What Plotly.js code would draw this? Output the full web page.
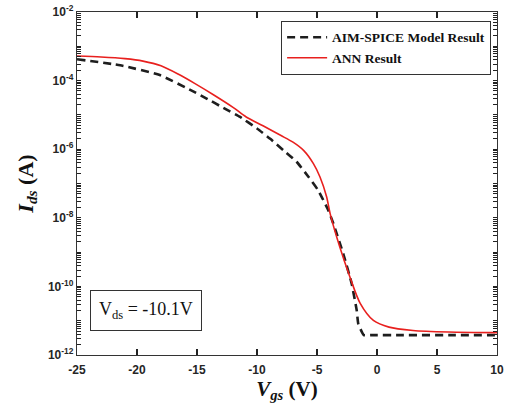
<!DOCTYPE html>
<html>
<head>
<meta charset="utf-8">
<script src="https://cdn.plot.ly/plotly-3.0.1.min.js"></script>
<style>html,body{margin:0;padding:0;background:#fff;}#chart{width:508px;height:405px;}</style>
</head>
<body>
<div id="chart"></div>
<script>
// AIM-SPICE model result (black dashed)
var vgsSpice = [-25, -21.4, -18.1, -15.4, -14.2, -12.8, -11.4, -10, -8.9, -7.8, -6.7, -5.7, -4.9, -4.06, -3.64, -2.81, -2.11, -1.69, -1.56, -1.1, -0.5, 2, 6, 10];
var idsSpice = [4.2e-4, 2.8e-4, 1.45e-4, 5.0e-5, 3.0e-5, 1.6e-5, 8.7e-6, 4.0e-6, 2.0e-6, 9.3e-7, 4.3e-7, 1.55e-7, 6.3e-8, 1.66e-8, 6.8e-9, 8.9e-10, 1.2e-10, 2.0e-11, 8.1e-12, 3.8e-12, 3.8e-12, 3.8e-12, 3.8e-12, 3.8e-12];
// ANN result (red solid)
var vgsAnn = [-25, -23, -21, -19.5, -18, -16.5, -15.2, -13.6, -12, -10.9, -9.5, -8, -7, -6.1, -5.3, -4.75, -4.2, -3.9, -3.1, -2.25, -1.4, -0.3, 1, 3, 6, 10];
var idsAnn = [5.2e-4, 4.9e-4, 4.37e-4, 3.7e-4, 2.7e-4, 1.5e-4, 8.3e-5, 3.8e-5, 1.66e-5, 8.7e-6, 4.8e-6, 2.5e-6, 1.6e-6, 9.1e-7, 3.8e-7, 1.55e-7, 4.1e-8, 1.3e-8, 1.4e-9, 1.86e-10, 3.2e-11, 1.02e-11, 6.5e-12, 5.2e-12, 4.7e-12, 4.5e-12];

var seriesNames = ['AIM-SPICE Model Result', 'ANN Result'];
var xTickVals = [-25, -20, -15, -10, -5, 0, 5, 10];
var xTickText = ['-25', '-20', '-15', '-10', '-5', '0', '5', '10'];
var yDecadeExps = [-12, -10, -8, -6, -4, -2];
var yDecadeText = ['10<sup>-12</sup>', '10<sup>-10</sup>', '10<sup>-8</sup>', '10<sup>-6</sup>', '10<sup>-4</sup>', '10<sup>-2</sup>'];

// y ticks: labelled decades plus unlabelled 2..9 minor positions
var yTickVals = [], yTickText = [];
for (var e = -12; e <= -2; e++) {
  var k = yDecadeExps.indexOf(e);
  yTickVals.push(Math.pow(10, e));
  yTickText.push(k >= 0 ? yDecadeText[k] : '');
  if (e < -2) {
    for (var m = 2; m <= 9; m++) { yTickVals.push(m * Math.pow(10, e)); yTickText.push(''); }
  }
}

var traces = [
  {x: vgsSpice, y: idsSpice, name: seriesNames[0], mode: 'lines', type: 'scatter',
   line: {color: '#1e1e1e', width: 2.6, dash: '8px,5px', shape: 'spline', smoothing: 0.4}},
  {x: vgsAnn, y: idsAnn, name: seriesNames[1], mode: 'lines', type: 'scatter',
   line: {color: '#e8201e', width: 1.6, shape: 'spline', smoothing: 0.8}}
];

var tickFont = {family: 'Liberation Sans, Arial, sans-serif', size: 12, color: '#262626', weight: 'bold'};

var layout = {
  width: 508, height: 405,
  margin: {l: 77, r: 11, t: 12, b: 50},
  paper_bgcolor: '#fff', plot_bgcolor: '#fff',
  showlegend: true,
  legend: {x: 0.986, y: 0.974, xanchor: 'right', yanchor: 'top',
    bgcolor: '#fff', bordercolor: '#333', borderwidth: 1,
    font: {family: 'Liberation Serif, serif', size: 13.5, color: '#111', weight: 'bold'},
    tracegroupgap: 0, itemwidth: 40},
  xaxis: {range: [-25, 10], tickmode: 'array', tickvals: xTickVals, ticktext: xTickText,
    ticks: 'inside', ticklen: 6, tickwidth: 1.2, tickcolor: '#222', showline: true, linecolor: '#333', linewidth: 1.2,
    mirror: 'ticks', showgrid: false, zeroline: false, tickfont: tickFont, ticklabelstandoff: 3,
    title: {text: '<i>V</i><sub><i>gs</i></sub> (V)', standoff: 4,
      font: {family: 'Liberation Serif, serif', size: 21, color: '#111', weight: 'bold'}}},
  yaxis: {type: 'log', range: [-12, -2], tickmode: 'array', tickvals: yTickVals, ticktext: yTickText,
    ticks: 'inside', ticklen: 4, tickwidth: 1, tickcolor: '#222', showline: true, linecolor: '#333', linewidth: 1.2,
    mirror: 'ticks', showgrid: false, zeroline: false, tickfont: tickFont,
    title: {text: '<i>I</i><sub><i>ds</i></sub> (A)', standoff: 8,
      font: {family: 'Liberation Serif, serif', size: 22, color: '#111', weight: 'bold'}}},
  annotations: [{xref: 'paper', yref: 'paper', x: 0.164, y: 0.131, xanchor: 'center', yanchor: 'middle',
    text: 'V<sub>ds</sub> = -10.1V', showarrow: false,
    font: {family: 'Liberation Serif, serif', size: 18, color: '#111'},
    bordercolor: '#333', borderwidth: 1, borderpad: 8, bgcolor: '#fff'}]
};

Plotly.newPlot('chart', traces, layout, {staticPlot: true});
</script>
</body>
</html>
